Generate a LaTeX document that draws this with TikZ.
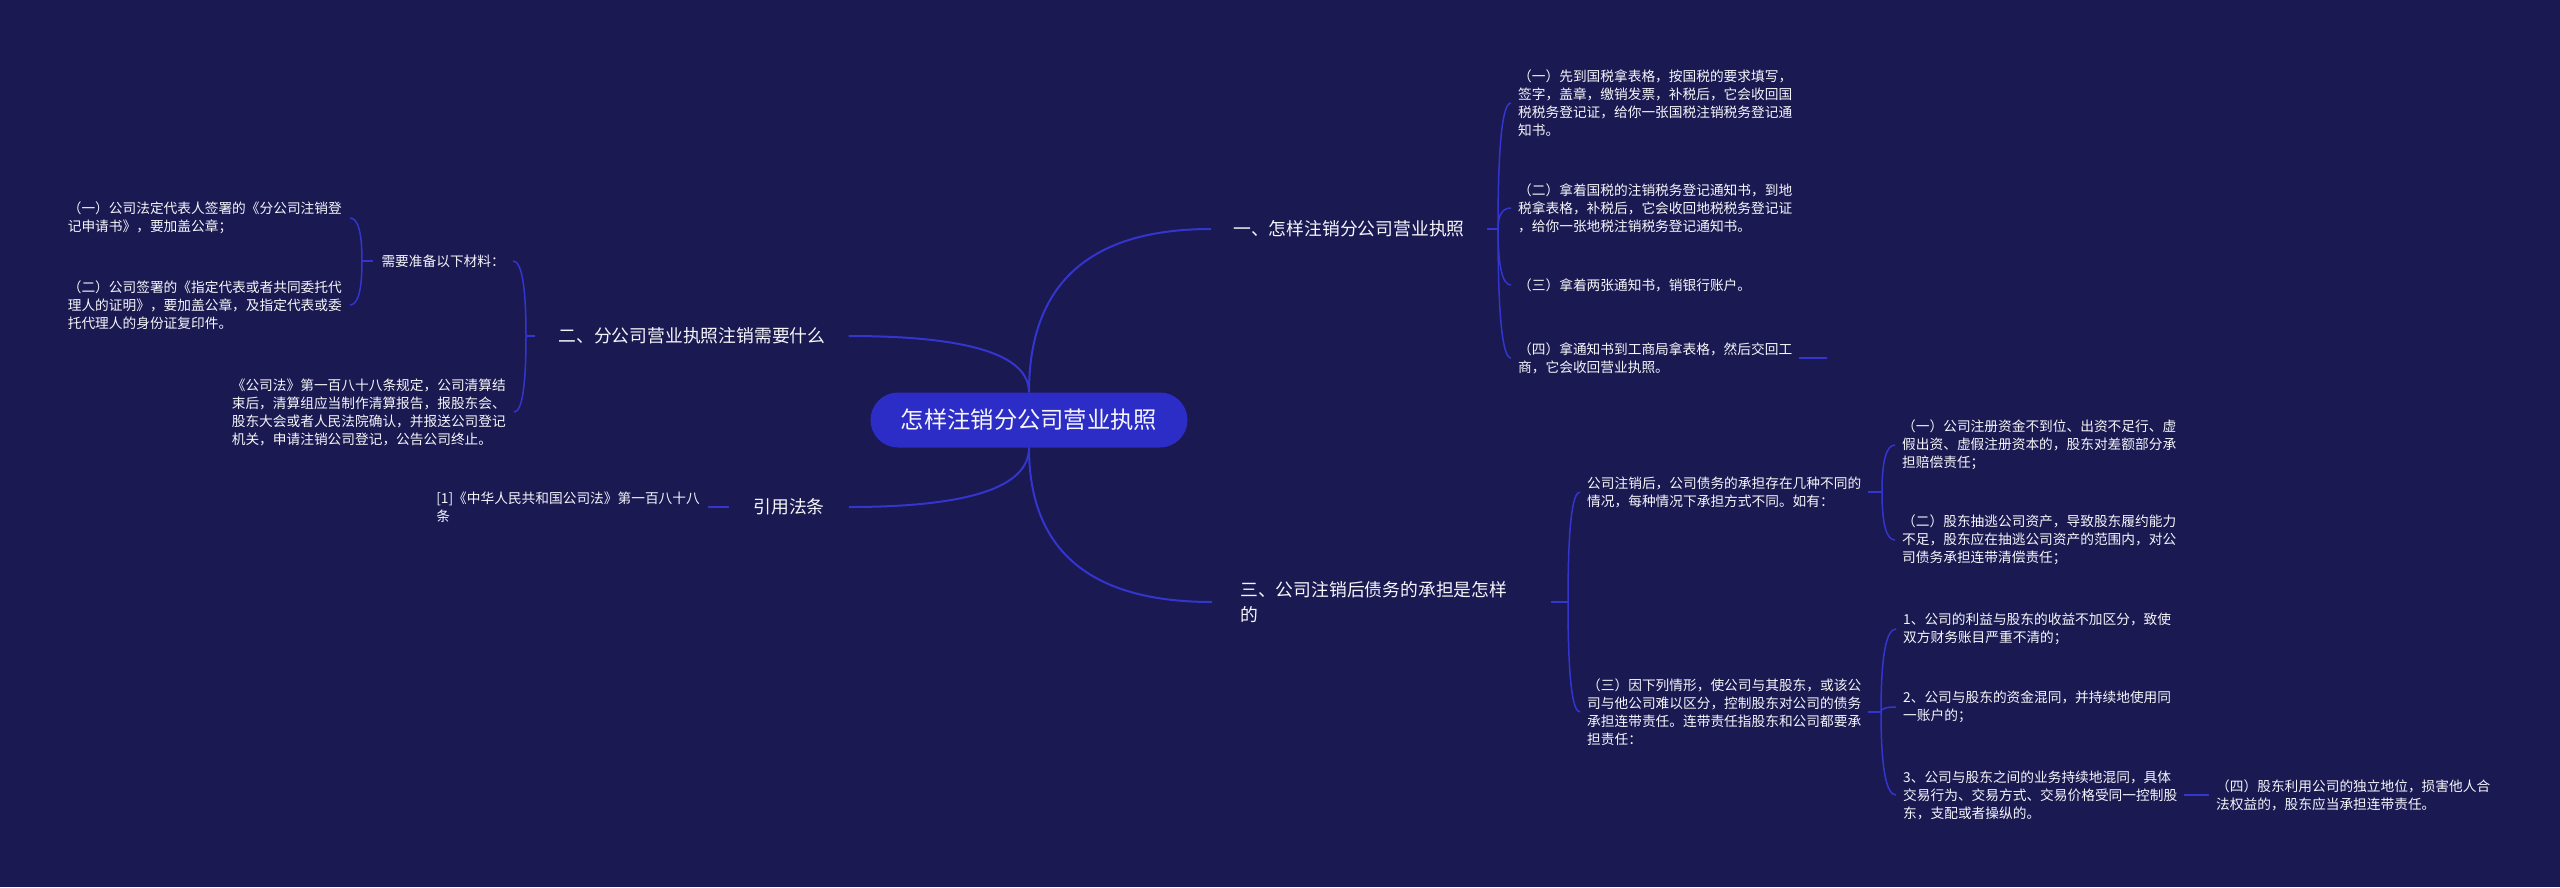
\documentclass[tikz,border=0pt]{standalone}
\usepackage{fontspec}
\setmainfont{Noto Sans CJK SC}
\usepackage{tikz}
\usetikzlibrary{calc}
\definecolor{bgnavy}{RGB}{26,25,82}
\definecolor{linkblue}{RGB}{52,52,206}
\definecolor{rootblue}{RGB}{44,44,198}
\definecolor{txt}{RGB}{246,246,250}

\tikzset{
  qcurve/.style={to path={.. controls ($(\tikztostart)!2/3!(\tikztostart |- \tikztotarget)$) and ($(\tikztotarget)!2/3!(\tikztostart |- \tikztotarget)$) .. (\tikztotarget)}}
}

\begin{document}
\begin{tikzpicture}[x=1pt,y=-1pt,
	root/.style={fill=rootblue, rounded corners=27.5pt, minimum width=317pt, minimum height=55pt, text=txt, font=\fontsize{23.3}{28}\selectfont},
	topic/.style={text=txt, inner xsep=22pt, inner ysep=3pt, align=left, font=\fontsize{17.8}{24.5}\selectfont},
	leaf/.style={text=txt, inner xsep=7pt, inner ysep=2pt, align=left, font=\fontsize{13.7}{18}\selectfont},
	conn/.style={draw=linkblue, line width=1.5pt},
	main/.style={draw=linkblue, line width=2pt}]
	
	\fill[bgnavy] (0,0) rectangle (2560,887);
	\useasboundingbox (0,0) rectangle (2560,887);
	
	\node[root] (root) at (1029,420) {怎样注销分公司营业执照};
	
	% right top: how to cancel
	\node[topic, anchor=west] (n1) at (1211,229) {一、怎样注销分公司营业执照};
	\coordinate (n1j) at (1498,229);
	\node[leaf, anchor=west] (n1a) at (1511,103) {（一）先到国税拿表格，按国税的要求填写，\\签字，盖章，缴销发票，补税后，它会收回国\\税税务登记证，给你一张国税注销税务登记通\\知书。};
	\node[leaf, anchor=west] (n1b) at (1511,208) {（二）拿着国税的注销税务登记通知书，到地\\税拿表格，补税后，它会收回地税税务登记证\\，给你一张地税注销税务登记通知书。};
	\node[leaf, anchor=west] (n1c) at (1511,285) {（三）拿着两张通知书，销银行账户。};
	\node[leaf, anchor=west] (n1d) at (1511,358) {（四）拿通知书到工商局拿表格，然后交回工\\商，它会收回营业执照。};
	\coordinate (n1dend) at (1827,358);
	
	% left top: what is needed
	\node[topic, inner xsep=23pt] (n2) at (692,336) {二、分公司营业执照注销需要什么};
	\coordinate (n2j) at (526,336);
	\node[leaf, anchor=east, inner xsep=8pt] (n2a) at (513,261) {需要准备以下材料：};
	\coordinate (n2aj) at (362,261);
	\node[leaf, anchor=east, inner xsep=8pt] (n2a1) at (350,218) {（一）公司法定代表人签署的《分公司注销登\\记申请书》，要加盖公章；};
	\node[leaf, anchor=east, inner xsep=8pt] (n2a2) at (350,305) {（二）公司签署的《指定代表或者共同委托代\\理人的证明》，要加盖公章，及指定代表或委\\托代理人的身份证复印件。};
	\node[leaf, anchor=east, inner xsep=8pt] (n2b) at (514,412) {《公司法》第一百八十八条规定，公司清算结\\束后，清算组应当制作清算报告，报股东会、\\股东大会或者人民法院确认，并报送公司登记\\机关，申请注销公司登记，公告公司终止。};
	
	% left bottom: cited law
	\node[topic, inner xsep=24pt] (n3) at (789,507) {引用法条};
	\node[leaf, anchor=east, inner xsep=8pt] (n3a) at (708,507) {[1]《中华人民共和国公司法》第一百八十八\\条};
	
	% right bottom: debts
	\node[topic, anchor=west, inner xsep=28pt, text width=283pt] (n4) at (1212,602) {三、公司注销后债务的承担是怎样\\的};
	\coordinate (n4j) at (1568,602);
	\node[leaf, anchor=west] (n4a) at (1580,492) {公司注销后，公司债务的承担存在几种不同的\\情况，每种情况下承担方式不同。如有：};
	\coordinate (n4aj) at (1882,492);
	\node[leaf, anchor=west] (n4a1) at (1895,445) {（一）公司注册资金不到位、出资不足行、虚\\假出资、虚假注册资本的，股东对差额部分承\\担赔偿责任；};
	\node[leaf, anchor=west] (n4a2) at (1895,540) {（二）股东抽逃公司资产，导致股东履约能力\\不足，股东应在抽逃公司资产的范围内，对公\\司债务承担连带清偿责任；};
	\node[leaf, anchor=west] (n4b) at (1580,712) {（三）因下列情形，使公司与其股东，或该公\\司与他公司难以区分，控制股东对公司的债务\\承担连带责任。连带责任指股东和公司都要承\\担责任：};
	\coordinate (n4bj) at (1881,712);
	\node[leaf, anchor=west] (n4b1) at (1896,629) {1、公司的利益与股东的收益不加区分，致使\\双方财务账目严重不清的；};
	\node[leaf, anchor=west] (n4b2) at (1896,707) {2、公司与股东的资金混同，并持续地使用同\\一账户的；};
	\node[leaf, anchor=west] (n4b3) at (1896,795) {3、公司与股东之间的业务持续地混同，具体\\交易行为、交易方式、交易价格受同一控制股\\东，支配或者操纵的。};
	\node[leaf, anchor=west] (n4b3a) at (2209,795) {（四）股东利用公司的独立地位，损害他人合\\法权益的，股东应当承担连带责任。};
	
	% links from the root
	\draw[main] (root.north) to[qcurve] (n1.west);
	\draw[main] (root.north) to[qcurve] (n2.east);
	\draw[main] (root.south) to[qcurve] (n3.east);
	\draw[main] (root.south) to[qcurve] (n4.west);
	
	% brackets
	\draw[conn] (n1.east) -- (n1j);
	\foreach \c in {n1a,n1b,n1c,n1d}
		\draw[conn] (n1j) to[qcurve] (\c.west);
	\draw[conn] (n1d.east) -- (n1dend);
	
	\draw[conn] (n2.west) -- (n2j);
	\foreach \c in {n2a,n2b}
		\draw[conn] (n2j) to[qcurve] (\c.east);
	\draw[conn] (n2a.west) -- (n2aj);
	\foreach \c in {n2a1,n2a2}
		\draw[conn] (n2aj) to[qcurve] (\c.east);
	
	\draw[conn] (n3.west) -- (n3a.east);
	
	\draw[conn] (n4.east) -- (n4j);
	\foreach \c in {n4a,n4b}
		\draw[conn] (n4j) to[qcurve] (\c.west);
	\draw[conn] (n4a.east) -- (n4aj);
	\foreach \c in {n4a1,n4a2}
		\draw[conn] (n4aj) to[qcurve] (\c.west);
	\draw[conn] (n4b.east) -- (n4bj);
	\foreach \c in {n4b1,n4b2,n4b3}
		\draw[conn] (n4bj) to[qcurve] (\c.west);
	\draw[conn] (n4b3.east) -- (n4b3a.west);
	
\end{tikzpicture}
\end{document}
